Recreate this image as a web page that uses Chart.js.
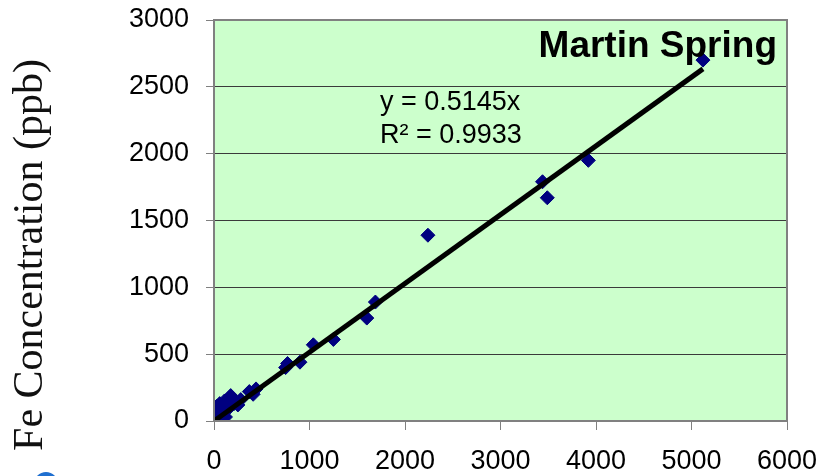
<!DOCTYPE html>
<html>
<head>
<meta charset="utf-8">
<script src="https://cdn.jsdelivr.net/npm/chart.js@4.4.0/dist/chart.umd.min.js"></script>
<style>
  html, body { margin: 0; padding: 0; background: #fff; }
  #wrap { width: 819px; height: 476px; position: relative; }
</style>
</head>
<body>
<div id="wrap"><canvas id="grafico" width="819" height="476"></canvas></div>
<script>
// total Fe vs Fe concentration, Martin Spring
const feX = [5, 15, 25, 30, 40, 50, 60, 70, 85, 100, 110, 120, 140, 160, 175, 190, 210, 250, 280,
             370, 410, 440, 750, 770, 900, 1040, 1250, 1600, 1690, 2240, 3440, 3490, 3920, 5120];
const feY = [60, 90, 40, 110, 20, 70, 130, 10, 50, 90, 150, 30, 120, 100, 190, 160, 130, 120, 160,
             220, 200, 240, 400, 430, 440, 570, 610, 770, 890, 1390, 1790, 1670, 1950, 2700];

const xTicks = [0, 1000, 2000, 3000, 4000, 5000, 6000];
const yTicks = [0, 500, 1000, 1500, 2000, 2500, 3000];

const slope = 0.5145;
const rSquared = "0.9933";
const titulo = "Martin Spring";
const tituloY = "Fe Concentration (ppb)";

const puntos = feX.map((x, i) => ({ x: x, y: feY[i] }));
const xMax = Math.max(...feX);
const tendencia = [{ x: 0, y: 0 }, { x: xMax, y: slope * xMax }];

// fondo verde y textos extra
const extras = {
    id: "extras",
    beforeDraw(chart) {
        const { ctx, chartArea: a } = chart;
        ctx.save();
        ctx.fillStyle = "#CCFFCC";
        ctx.fillRect(a.left, a.top, a.right - a.left, a.bottom - a.top);
        ctx.restore();
    },
    afterDraw(chart) {
        const { ctx, chartArea: a } = chart;
        ctx.save();
        ctx.strokeStyle = "#808080";
        ctx.lineWidth = 2;
        ctx.strokeRect(a.left, a.top, a.right - a.left, a.bottom - a.top);

        ctx.fillStyle = "#000";
        ctx.textBaseline = "alphabetic";
        ctx.textAlign = "right";
        ctx.font = "bold 37px 'Liberation Sans', Arial, sans-serif";
        ctx.fillText(titulo, a.right - 10, a.top + 37);

        ctx.textAlign = "left";
        ctx.font = "27px 'Liberation Sans', Arial, sans-serif";
        ctx.fillText("y = " + slope + "x", 380, 110);
        ctx.fillText("R\u00B2 = " + rSquared, 380, 143);

        // titulo del eje y
        ctx.translate(42, 255);
        ctx.rotate(-Math.PI / 2);
        ctx.textAlign = "center";
        ctx.font = "42px 'Liberation Serif', 'Times New Roman', serif";
        ctx.fillStyle = "#111";
        ctx.fillText(tituloY, 0, 0);
        ctx.restore();

        // logo cortado abajo a la izquierda
        ctx.save();
        ctx.fillStyle = "#1F6FD0";
        ctx.beginPath();
        ctx.arc(46, 484, 12, 0, Math.PI * 2);
        ctx.fill();
        ctx.restore();
    }
};

const ctx = document.getElementById("grafico").getContext("2d");
new Chart(ctx, {
    type: "scatter",
    data: {
        datasets: [
            {
                label: "Tendencia",
                data: tendencia,
                showLine: true,
                borderColor: "#000",
                borderWidth: 5,
                pointRadius: 0,
                order: 0
            },
            {
                label: "Fe",
                data: puntos,
                pointStyle: "rectRot",
                pointRadius: 7,
                backgroundColor: "#000080",
                borderColor: "#000080",
                borderWidth: 1,
                order: 1
            }
        ]
    },
    options: {
        responsive: false,
        animation: false,
        layout: { padding: { top: 20, right: 32, left: 0, bottom: 0 } },
        plugins: { legend: { display: false }, tooltip: { enabled: false } },
        scales: {
            x: {
                type: "linear",
                min: xTicks[0],
                max: xTicks[xTicks.length - 1],
                afterBuildTicks: s => { s.ticks = xTicks.map(v => ({ value: v })); },
                afterFit: s => { s.height = 55; s.paddingLeft = 0; s.paddingRight = 0; },
                grid: { drawOnChartArea: false, tickLength: 9, color: "#808080", lineWidth: 1 },
                border: { color: "#808080", width: 2 },
                ticks: {
                    color: "#000",
                    padding: 15,
                    maxRotation: 0,
                    callback: v => String(v),
                    font: { family: "'Liberation Sans', Arial, sans-serif", size: 27 }
                }
            },
            y: {
                type: "linear",
                min: yTicks[0],
                max: yTicks[yTicks.length - 1],
                afterBuildTicks: s => { s.ticks = yTicks.map(v => ({ value: v })); },
                afterFit: s => { s.width = 214; s.paddingTop = 0; s.paddingBottom = 0; },
                grid: { color: "#3a3a3a", lineWidth: 1, tickLength: 8, tickColor: "#808080" },
                border: { color: "#808080", width: 2 },
                ticks: {
                    color: "#000",
                    padding: 17,
                    callback: v => String(v),
                    font: { family: "'Liberation Sans', Arial, sans-serif", size: 27 }
                }
            }
        }
    },
    plugins: [extras]
});
</script>
</body>
</html>
